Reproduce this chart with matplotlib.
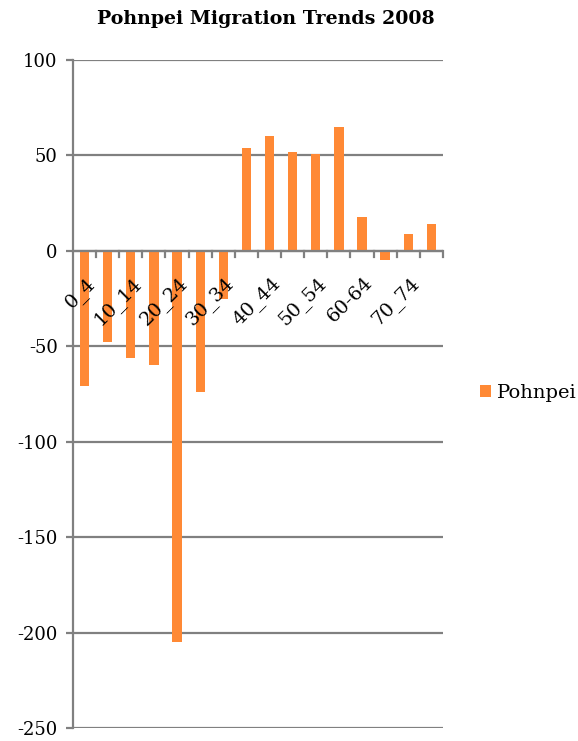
import numpy as np
import matplotlib
matplotlib.use("Agg")
import matplotlib.pyplot as plt

# age groups and net migration counts
age_groups = ["0_4", "5_9", "10_14", "15_19", "20_24", "25_29", "30_34", "35_39",
              "40_44", "45_49", "50_54", "55_59", "60-64", "65_69", "70_74", "75+"]
net_migration = [-71, -48, -56, -60, -205, -74, -25, 54, 60, 52, 51, 65, 18, -5, 9, 14]
y_ticks = [-250, -200, -150, -100, -50, 0, 50, 100]

bar_color = "#FF8935"
grid_color = "#808080"

plt.rcParams["font.family"] = ["DejaVu Serif"]

fig = plt.figure(figsize=(5.78, 7.41), dpi=100)
ax = fig.add_axes([0.1263, 0.0175, 0.64, 0.9015])

x = np.arange(len(age_groups))
ax.bar(x, net_migration, width=0.4, color=bar_color, zorder=3, label="Pohnpei")

ax.set_xlim(-0.5, len(age_groups) - 0.5)
ax.set_ylim(-250, 100)
ax.set_yticks(y_ticks)
ax.set_yticklabels([str(v) for v in y_ticks], fontsize=13)
ax.yaxis.grid(True, color=grid_color, linewidth=1.6, zorder=0)

for side in ["top", "right", "bottom"]:
    ax.spines[side].set_visible(False)
ax.spines["left"].set_color(grid_color)
ax.spines["left"].set_linewidth(1.6)
ax.tick_params(axis="y", length=5, width=1.6, color=grid_color, pad=6)

# category axis sits at zero with ticks between groups
ax.axhline(0, color=grid_color, linewidth=1.6, zorder=4)
ax.set_xticks([])
for b in np.arange(1, len(age_groups) + 1) - 0.5:
    ax.plot([b, b], [0, -3.2], color=grid_color, linewidth=1.6, zorder=4, clip_on=False)

for i in range(0, len(age_groups), 2):
    ax.text(i + 0.05, -12, age_groups[i], rotation=45, ha="right", va="top",
            rotation_mode="anchor", fontsize=14, zorder=5)

fig.text(0.46, 0.975, "Pohnpei Migration Trends 2008", fontsize=13.7,
         fontweight="bold", ha="center", va="center")

fig.legend(loc="center left", bbox_to_anchor=(0.8305, 0.4696), frameon=False,
           fontsize=14, borderpad=0, borderaxespad=0, handlelength=0.57,
           handleheight=0.57, handletextpad=0.3)

fig.savefig("out.png", dpi=100)
